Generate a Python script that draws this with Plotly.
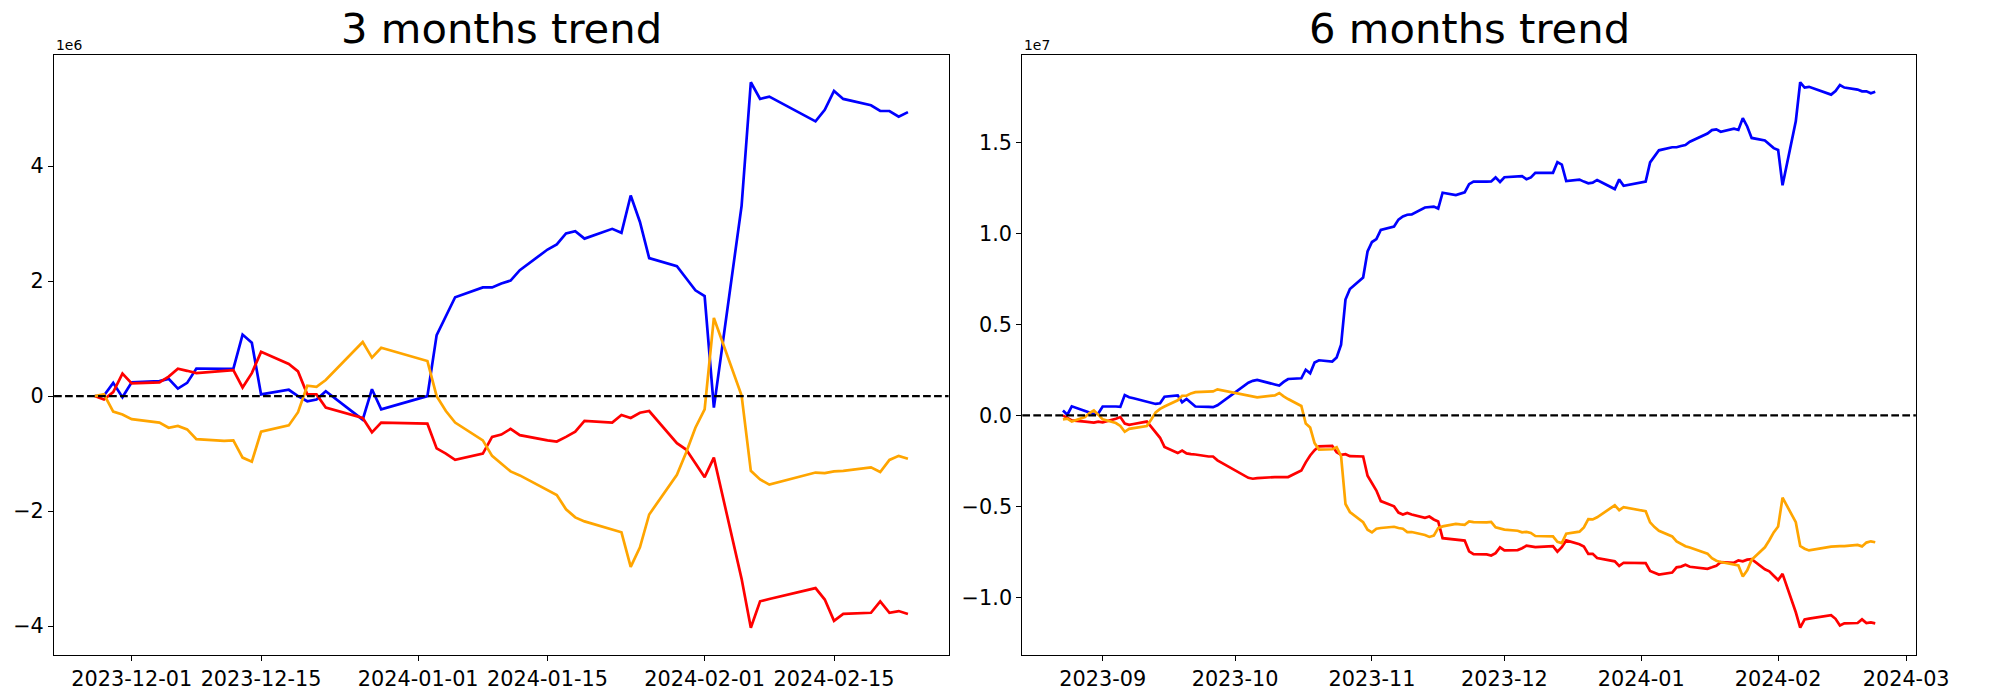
import pandas as pd
import plotly.graph_objects as go

# ---------------- data ----------------
# Korean trading days (KRX), Aug 23 2023 .. Feb 23 2024
trading_days = {
    "2023-08": [23, 24, 25, 28, 29, 30, 31],
    "2023-09": [1, 4, 5, 6, 7, 8, 11, 12, 13, 14, 15, 18, 19, 20, 21, 22, 25, 26, 27],
    "2023-10": [4, 5, 6, 10, 11, 12, 13, 16, 17, 18, 19, 20, 23, 24, 25, 26, 27, 30, 31],
    "2023-11": [1, 2, 3, 6, 7, 8, 9, 10, 13, 14, 15, 16, 17, 20, 21, 22, 23, 24, 27, 28, 29, 30],
    "2023-12": [1, 4, 5, 6, 7, 8, 11, 12, 13, 14, 15, 18, 19, 20, 21, 22, 26, 27, 28],
    "2024-01": [2, 3, 4, 5, 8, 9, 10, 11, 12, 15, 16, 17, 18, 19, 22, 23, 24, 25, 26, 29, 30, 31],
    "2024-02": [1, 2, 5, 6, 7, 8, 13, 14, 15, 16, 19, 20, 21, 22, 23],
}
dates_6m = [f"{m}-{d:02d}" for m, days in trading_days.items() for d in days]
dates_3m = [d for d in dates_6m if d >= "2023-11-27"]

# 3 months trend (units of 1e6)
blue_3m = [0, 0.01, 0.23, -0.02,
           0.24, 0.26, 0.30, 0.13, 0.23, 0.48, 0.475, 0.475, 1.07, 0.93, 0.03, 0.11, 0.0, -0.09, -0.06, 0.085, -0.41, 0.12, -0.23,
           0.0, 1.06, 1.39, 1.72, 1.89, 1.89, 1.96, 2.01, 2.19, 2.55, 2.64, 2.83, 2.87, 2.74, 2.91, 2.84, 3.49, 3.03, 2.40, 2.26, 2.05, 1.84,
           1.74, -0.20, 3.31, 5.46, 5.17, 5.21, 4.78, 4.98, 5.31, 5.17, 5.06, 4.96, 4.96, 4.86, 4.94]
red_3m = [0, -0.06, 0.07, 0.39,
          0.22, 0.24, 0.34, 0.475, 0.44, 0.40, 0.44, 0.45, 0.15, 0.40, 0.77, 0.56, 0.43, 0.03, 0.03, -0.20, -0.38, -0.63, -0.46,
          -0.48, -0.91, -1.00, -1.11, -1.00, -0.71, -0.67, -0.57, -0.68, -0.77, -0.79, -0.71, -0.62, -0.43, -0.46, -0.33, -0.38, -0.29, -0.26, -0.82, -0.93, -1.17,
          -1.41, -1.07, -3.18, -4.03, -3.57, -3.53, -3.34, -3.54, -3.91, -3.79, -3.77, -3.57, -3.77, -3.74, -3.79]
orange_3m = [0, 0.03, -0.27, -0.32,
             -0.40, -0.46, -0.55, -0.52, -0.58, -0.75, -0.78, -0.77, -1.07, -1.14, -0.62, -0.51, -0.28, 0.18, 0.16, 0.28, 0.94, 0.67, 0.84,
             0.61, 0.0, -0.26, -0.46, -0.77, -1.04, -1.17, -1.31, -1.38, -1.64, -1.72, -1.97, -2.11, -2.18, -2.32, -2.37, -2.97, -2.63, -2.06, -1.37, -0.98, -0.55,
             -0.23, 1.36, 0.01, -1.30, -1.45, -1.54, -1.33, -1.34, -1.31, -1.30, -1.24, -1.32, -1.11, -1.04, -1.09]

# 6 months trend (units of 1e7)
blue_6m = [0.027, 0.004, 0.050, 0.022, 0.013, 0.007, 0.011,
           0.049, 0.049, 0.047, 0.112, 0.100, 0.094, 0.076, 0.070, 0.063, 0.067, 0.103, 0.110, 0.072, 0.090, 0.067, 0.049, 0.047, 0.045, 0.056,
           0.180, 0.190, 0.195, 0.170, 0.164, 0.184, 0.200, 0.204, 0.251, 0.231, 0.291, 0.303, 0.296, 0.318, 0.388, 0.637, 0.695, 0.758, 0.901,
           0.953, 0.969, 1.020, 1.038, 1.076, 1.094, 1.103, 1.105, 1.143, 1.146, 1.148, 1.137, 1.224, 1.211, 1.217, 1.226, 1.271, 1.285, 1.285, 1.286, 1.308, 1.283,
           1.309, 1.311, 1.315, 1.298, 1.308, 1.333, 1.333, 1.333, 1.392, 1.378, 1.288, 1.296, 1.285, 1.276, 1.279, 1.294, 1.244, 1.297, 1.262,
           1.285, 1.391, 1.424, 1.457, 1.474, 1.474, 1.481, 1.486, 1.504, 1.540, 1.549, 1.568, 1.572, 1.559, 1.576, 1.569, 1.634, 1.588, 1.525, 1.511, 1.490, 1.469,
           1.459, 1.265, 1.616, 1.831, 1.802, 1.806, 1.763, 1.783, 1.816, 1.802, 1.791, 1.781, 1.781, 1.771, 1.779]
red_6m = [0.000, -0.013, -0.027, -0.034, -0.038, -0.040, -0.034,
          -0.038, -0.018, -0.009, -0.045, -0.052, -0.047, -0.034, -0.063, -0.094, -0.123, -0.173, -0.207, -0.193, -0.209, -0.213, -0.215, -0.226, -0.226, -0.247,
          -0.343, -0.348, -0.345, -0.339, -0.341, -0.339, -0.339, -0.303, -0.258, -0.220, -0.191, -0.170, -0.168, -0.202, -0.217, -0.213, -0.224, -0.226, -0.332,
          -0.372, -0.413, -0.471, -0.500, -0.534, -0.545, -0.536, -0.545, -0.563, -0.556, -0.572, -0.583, -0.675, -0.682, -0.684, -0.688, -0.747, -0.762, -0.764, -0.770, -0.757, -0.725,
          -0.742, -0.740, -0.730, -0.716, -0.720, -0.724, -0.720, -0.719, -0.749, -0.724, -0.687, -0.708, -0.721, -0.761, -0.761, -0.784, -0.802, -0.827, -0.810,
          -0.812, -0.855, -0.864, -0.875, -0.864, -0.835, -0.831, -0.821, -0.832, -0.841, -0.843, -0.835, -0.826, -0.807, -0.810, -0.797, -0.802, -0.793, -0.790, -0.846, -0.857, -0.881,
          -0.905, -0.871, -1.082, -1.167, -1.121, -1.117, -1.098, -1.118, -1.155, -1.143, -1.141, -1.121, -1.141, -1.138, -1.143]
orange_6m = [-0.022, -0.018, -0.034, -0.009, 0.013, 0.027, 0.004,
             -0.022, -0.042, -0.058, -0.090, -0.074, -0.070, -0.058, -0.022, 0.016, 0.036, 0.049, 0.083, 0.108, 0.108, 0.121, 0.128, 0.130, 0.132, 0.143,
             0.112, 0.105, 0.099, 0.110, 0.123, 0.105, 0.090, 0.052, -0.045, -0.067, -0.152, -0.188, -0.186, -0.175, -0.224, -0.487, -0.531, -0.587, -0.628,
             -0.643, -0.623, -0.619, -0.612, -0.619, -0.623, -0.641, -0.641, -0.657, -0.668, -0.661, -0.619, -0.610, -0.596, -0.599, -0.601, -0.583, -0.587, -0.588, -0.585, -0.615, -0.620,
             -0.628, -0.634, -0.643, -0.640, -0.646, -0.663, -0.666, -0.665, -0.695, -0.702, -0.650, -0.639, -0.616, -0.570, -0.572, -0.560, -0.494, -0.521, -0.504,
             -0.527, -0.588, -0.614, -0.634, -0.665, -0.692, -0.705, -0.719, -0.726, -0.752, -0.760, -0.785, -0.799, -0.806, -0.820, -0.825, -0.885, -0.851, -0.794, -0.725, -0.686, -0.643,
             -0.611, -0.452, -0.587, -0.718, -0.733, -0.742, -0.721, -0.722, -0.719, -0.718, -0.712, -0.720, -0.699, -0.692, -0.697]

colors = {"blue": "#0000ff", "red": "#ff0000", "orange": "#ffa500"}
titles = ["3 months trend", "6 months trend"]
x_ticks_3m = ["2023-12-01", "2023-12-15", "2024-01-01", "2024-01-15", "2024-02-01", "2024-02-15"]
x_ticks_6m = ["2023-09-01", "2023-10-01", "2023-11-01", "2023-12-01", "2024-01-01", "2024-02-01", "2024-03-01"]
y_ticks_3m = [-4, -2, 0, 2, 4]
y_ticks_6m = [-1.0, -0.5, 0.0, 0.5, 1.0, 1.5]

# ---------------- figure ----------------
W, H = 2000, 700
FONT = "DejaVu Sans"
LW = 2.7

def px_x(p):
    return p / W

def px_y(p):  # p measured from top
    return 1 - p / H

dom_y = [px_y(655), px_y(55)]
dom_x1 = [px_x(55), px_x(965)]
dom_x2 = [px_x(1040), px_x(1949)]

def xrange_of(dates):
    a, b = pd.Timestamp(dates[0]), pd.Timestamp(dates[-1])
    m = (b - a) * 0.05
    return [(a - m).strftime("%Y-%m-%d %H:%M:%S"), (b + m).strftime("%Y-%m-%d %H:%M:%S")]

def yrange_of(*series):
    lo = min(min(s) for s in series)
    hi = max(max(s) for s in series)
    m = (hi - lo) * 0.05
    return [lo - m, hi + m]

def minus(v, fmt):
    s = fmt.format(v)
    return s.replace("-", "\u2212")

fig = go.Figure()

for xa, ya, dates, series in [
    ("x", "y", dates_3m, [("blue", blue_3m), ("red", red_3m), ("orange", orange_3m)]),
    ("x2", "y2", dates_6m, [("blue", blue_6m), ("red", red_6m), ("orange", orange_6m)]),
]:
    for name, vals in series:
        fig.add_trace(go.Scatter(x=dates, y=vals, mode="lines", name=name,
                                 line=dict(color=colors[name], width=LW),
                                 xaxis=xa, yaxis=ya, showlegend=False))

axis_common = dict(showgrid=False, zeroline=False, showline=True, mirror=True,
                   linecolor="black", linewidth=1.1, ticks="outside", ticklen=5,
                   tickwidth=1.1, tickcolor="black",
                   tickfont=dict(family=FONT, size=20.8, color="black"))

fig.update_layout(
    width=W, height=H,
    margin=dict(l=0, r=0, t=0, b=0),
    paper_bgcolor="white", plot_bgcolor="white",
    font=dict(family=FONT, color="black"),
    xaxis=dict(domain=dom_x1, anchor="y", type="date", range=xrange_of(dates_3m),
               tickvals=x_ticks_3m, ticktext=x_ticks_3m, **axis_common),
    yaxis=dict(domain=dom_y, anchor="x", range=yrange_of(blue_3m, red_3m, orange_3m),
               tickvals=y_ticks_3m, ticktext=[minus(v, "{:d}") for v in y_ticks_3m], **axis_common),
    xaxis2=dict(domain=dom_x2, anchor="y2", type="date", range=xrange_of(dates_6m),
                tickvals=x_ticks_6m, ticktext=[d[:7] for d in x_ticks_6m], **axis_common),
    yaxis2=dict(domain=dom_y, anchor="x2", range=yrange_of(blue_6m, red_6m, orange_6m),
                tickvals=y_ticks_6m, ticktext=[minus(v, "{:.1f}") for v in y_ticks_6m], **axis_common),
)

# zero reference lines
for xr, yr in [("x domain", "y"), ("x2 domain", "y2")]:
    fig.add_shape(type="line", xref=xr, yref=yr, x0=0, x1=1, y0=0, y1=0,
                  line=dict(color="black", width=2.1, dash="7.7px,3.3px"), layer="above")

# titles and offset labels
for dom, title, offset in [(dom_x1, titles[0], "1e6"), (dom_x2, titles[1], "1e7")]:
    fig.add_annotation(text=title, xref="paper", yref="paper",
                       x=(dom[0] + dom[1]) / 2, y=dom_y[1], xanchor="center", yanchor="bottom",
                       yshift=0, showarrow=False, font=dict(family=FONT, size=41.7, color="black"))
    fig.add_annotation(text=offset, xref="paper", yref="paper",
                       x=dom[0], y=dom_y[1], xanchor="left", yanchor="bottom",
                       showarrow=False, font=dict(family=FONT, size=13.9, color="black"))

fig.write_html("out.html", config={"displayModeBar": False},
               post_script="document.body.style.margin='0';document.body.style.overflow='hidden';")
